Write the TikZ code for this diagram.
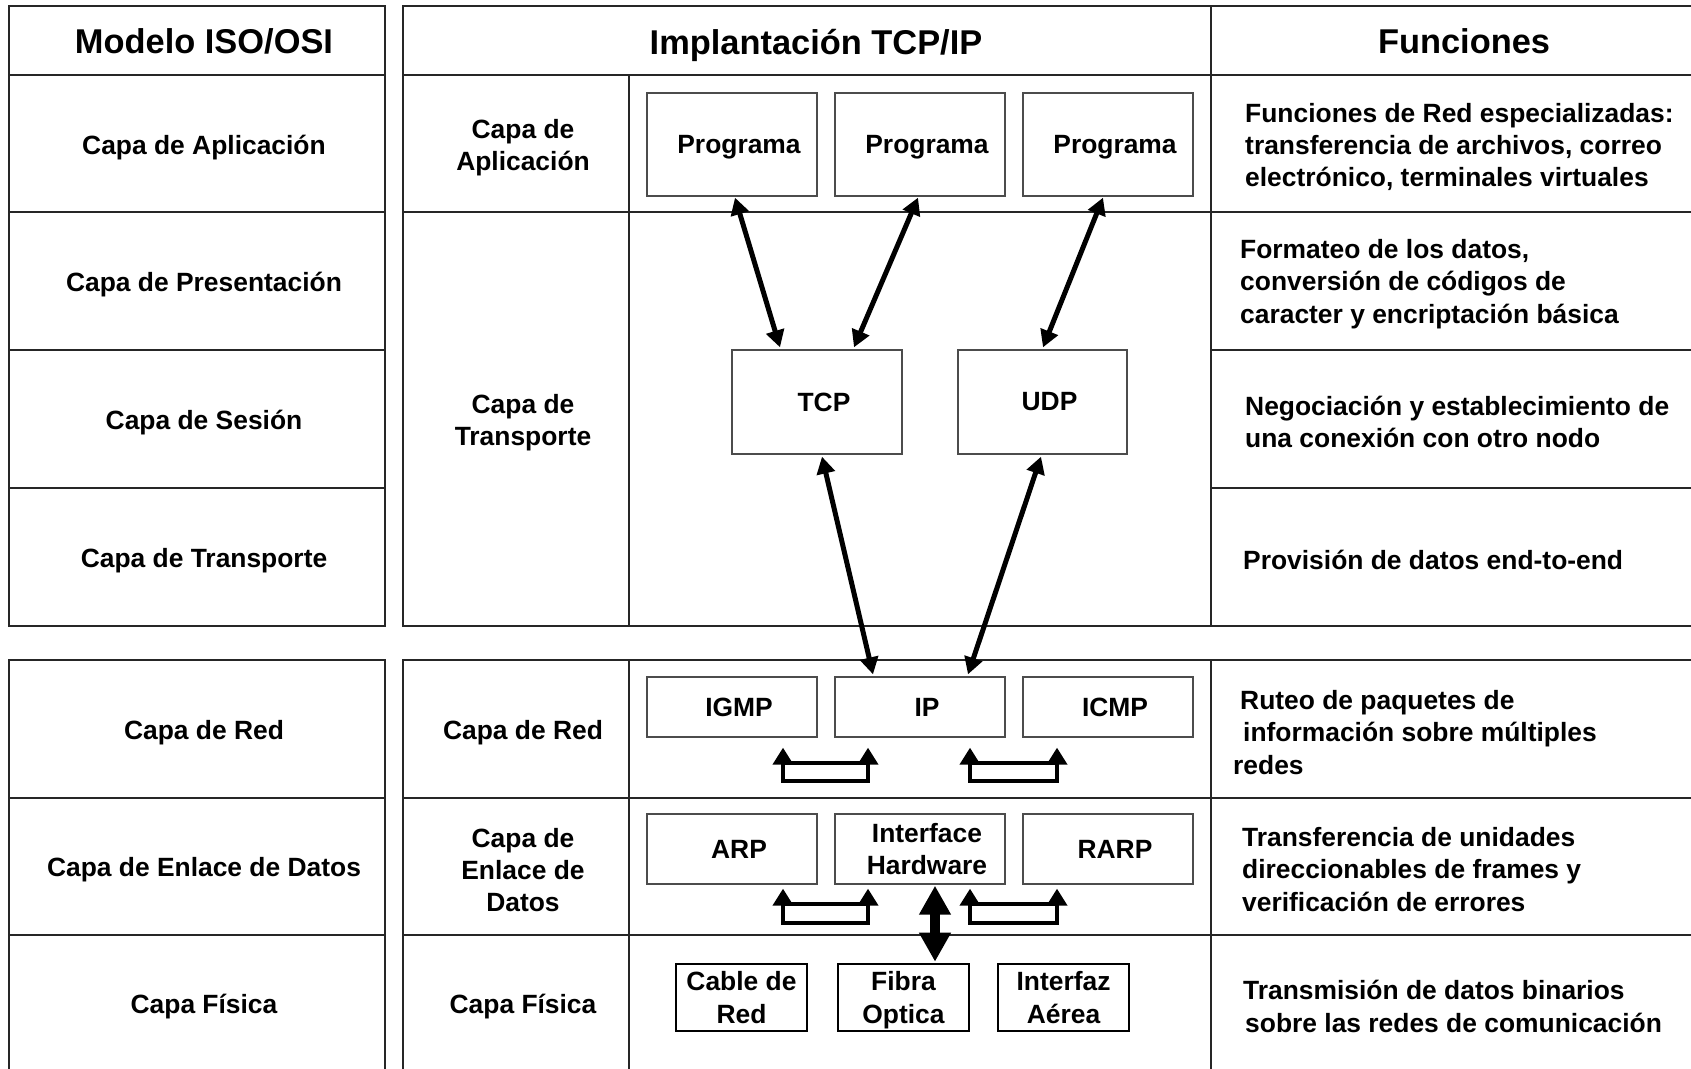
\documentclass[tikz,border=0pt]{standalone}
\usepackage{fontspec}
\setmainfont{Liberation Sans}
\usetikzlibrary{arrows.meta}
\newcommand\txtbody{\fontsize{26.4}{32.4}\selectfont\bfseries}
\newcommand\txthead{\fontsize{34.4}{40}\selectfont\bfseries}
\newcommand\padl{\hspace*{14pt}}
\begin{document}
\begin{tikzpicture}[x=1pt,y=-1pt,
  grid/.style={line width=1.5pt, draw=black!85},
  box/.style={draw=black!70, line width=1.3pt, inner sep=0pt, minimum width=170pt, align=center, font=\txtbody},
  medio/.style={draw=black, line width=2.6pt, inner sep=0pt, minimum width=131pt, minimum height=67pt, align=center, font=\txtbody, text depth=0pt},
  lbl/.style={inner sep=0pt, align=center, font=\txtbody, yshift=-3pt},
  fn/.style={inner sep=0pt, align=left, anchor=west, font=\txtbody, yshift=-2.5pt},
  hdr/.style={inner sep=0pt, font=\txthead},
  link/.style={line width=5pt, {Triangle[length=17pt,width=18pt]}-{Triangle[length=17pt,width=18pt]}},
  uarr/.style={line width=4pt, line join=miter, {Triangle[length=17pt,width=20pt]}-{Triangle[length=17pt,width=20pt]}},
  ubar/.style={line width=4pt},
  fat/.style={line width=10pt, {Triangle[length=29pt,width=30pt]}-{Triangle[length=29pt,width=30pt]}}
]
\useasboundingbox (0,0) rectangle (1691,1068);
\clip (0,0) rectangle (1691,1068);

% ---- ISO/OSI column ----
\draw[grid] (9,6) rectangle (385,626);
\foreach \yy in {75,212,350,488} \draw[grid] (9,\yy) -- (385,\yy);
\draw[grid] (9,1080) -- (9,660) -- (385,660) -- (385,1080);
\foreach \yy in {798,935} \draw[grid] (9,\yy) -- (385,\yy);

% ---- TCP/IP and functions columns ----
\draw[grid] (1700,6) -- (403,6) -- (403,626) -- (1700,626);
\draw[grid] (403,75) -- (1700,75);
\draw[grid] (403,212) -- (1700,212);
\draw[grid] (629,75) -- (629,626);
\draw[grid] (1211,6) -- (1211,626);
\draw[grid] (1211,350) -- (1700,350);
\draw[grid] (1211,488) -- (1700,488);
\draw[grid] (1700,660) -- (403,660) -- (403,1080);
\draw[grid] (629,660) -- (629,1080);
\draw[grid] (1211,660) -- (1211,1080);
\draw[grid] (403,798) -- (1700,798);
\draw[grid] (403,935) -- (1700,935);

% ---- headers ----
\node[hdr] (hiso) at (204,41) {Modelo ISO/OSI};
\node[hdr, yshift=-4pt] (htcp) at (816,41) {Implantación TCP/IP};
\node[hdr] (hfun) at (1464,41) {Funciones};

% ---- OSI layers ----
\node[lbl] (o1) at (204,144.5) {Capa de Aplicación};
\node[lbl] (o2) at (204,281.5) {Capa de Presentación};
\node[lbl] (o3) at (204,419.5) {Capa de Sesión};
\node[lbl] (o4) at (204,557.5) {Capa de Transporte};
\node[lbl] (o5) at (204,730) {Capa de Red};
\node[lbl] (o6) at (204,867) {Capa de Enlace de Datos};
\node[lbl] (o7) at (204,1004) {Capa Física};

% ---- TCP/IP layers ----
\node[lbl] (t1) at (523,144.5) {Capa de\\Aplicación};
\node[lbl] (t2) at (523,419.5) {Capa de\\Transporte};
\node[lbl] (t3) at (523,730) {Capa de Red};
\node[lbl] (t4) at (523,867) {Capa de\\Enlace de\\Datos};
\node[lbl] (t5) at (523,1004) {Capa Física};

% ---- functions ----
\node[fn] (f1) at (1245,144.5) {Funciones de Red especializadas:\\transferencia de archivos, correo\\electrónico, terminales virtuales};
\node[fn] (f2) at (1240,281.5) {Formateo de los datos,\\conversión de códigos de\\caracter y encriptación básica};
\node[fn] (f3) at (1245,419.5) {Negociación y establecimiento de\\una conexión con otro nodo};
\node[fn] (f4) at (1243,557.5) {Provisión de datos end-to-end};
\node[fn] (f5) at (1233,730) {\hspace*{7pt}Ruteo de paquetes de\\\hspace*{10pt}información sobre múltiples\\redes};
\node[fn] (f6) at (1242,867) {Transferencia de unidades\\direccionables de frames y\\verificación de errores};
\node[fn] (f7) at (1243,1004) {Transmisión de datos binarios\\\hspace*{2pt}sobre las redes de comunicación};

% ---- protocol boxes ----
\node[box, minimum height=103pt, text depth=0pt] (P1) at (732,144.5) {\padl Programa};
\node[box, minimum height=103pt, text depth=0pt] (P2) at (920,144.5) {\padl Programa};
\node[box, minimum height=103pt, text depth=0pt] (P3) at (1108,144.5) {\padl Programa};
\node[box, minimum height=104pt] (TCP) at (817,402) {\padl TCP};
\node[box, minimum height=104pt, minimum width=169pt] (UDP) at (1042.5,402) {\padl UDP};
\node[box, minimum height=60pt] (IGMP) at (732,707) {\padl IGMP};
\node[box, minimum height=60pt] (IP) at (920,707) {\padl IP};
\node[box, minimum height=60pt] (ICMP) at (1108,707) {\padl ICMP};
\node[box, minimum height=70pt] (ARP) at (732,849) {\padl ARP};
\node[box, minimum height=70pt] (IFH) at (920,849) {\padl Interface\\\padl Hardware};
\node[box, minimum height=70pt] (RARP) at (1108,849) {\padl RARP};
\node[medio] (CAB) at (741.5,997.5) {Cable de\\Red};
\node[medio] (FIB) at (903.5,997.5) {Fibra\\Optica};
\node[medio] (AER) at (1063.5,997.5) {Interfaz\\Aérea};

% ---- links between layers ----
\draw[link] ([xshift=3pt,yshift=-1pt]P1.south) -- ([xshift=-37pt,yshift=2pt]TCP.north);
\draw[link] ([xshift=-2pt,yshift=-1pt]P2.south) -- ([xshift=37pt,yshift=2pt]TCP.north);
\draw[link] ([xshift=-5pt,yshift=-1pt]P3.south) -- ([xshift=0.5pt,yshift=2pt]UDP.north);
\draw[link] ([xshift=5pt,yshift=-2pt]TCP.south) -- ([xshift=-47pt,yshift=2pt]IP.north);
\draw[link] ([xshift=-1.5pt,yshift=-2pt]UDP.south) -- ([xshift=48pt,yshift=2pt]IP.north);

% ---- exchanges inside the network and data link layers ----
\draw[uarr] ([xshift=51pt,yshift=-10pt]IGMP.south) -- ++(0pt,-33pt) -| ([xshift=-52pt,yshift=-10pt]IP.south);
\draw[ubar] ([xshift=51pt,yshift=-25pt]IGMP.south) -- ([xshift=-52pt,yshift=-25pt]IP.south);
\draw[uarr] ([xshift=50pt,yshift=-10pt]IP.south) -- ++(0pt,-33pt) -| ([xshift=-51pt,yshift=-10pt]ICMP.south);
\draw[ubar] ([xshift=50pt,yshift=-25pt]IP.south) -- ([xshift=-51pt,yshift=-25pt]ICMP.south);
\draw[uarr] ([xshift=51pt,yshift=-4pt]ARP.south) -- ++(0pt,-34pt) -| ([xshift=-52pt,yshift=-4pt]IFH.south);
\draw[ubar] ([xshift=51pt,yshift=-19pt]ARP.south) -- ([xshift=-52pt,yshift=-19pt]IFH.south);
\draw[uarr] ([xshift=50pt,yshift=-4pt]IFH.south) -- ++(0pt,-34pt) -| ([xshift=-51pt,yshift=-4pt]RARP.south);
\draw[ubar] ([xshift=50pt,yshift=-19pt]IFH.south) -- ([xshift=-51pt,yshift=-19pt]RARP.south);

% ---- hardware interface to physical medium ----
\draw[fat] ([xshift=15pt,yshift=-1pt]IFH.south) -- ([xshift=31.5pt,yshift=1pt]FIB.north);
\end{tikzpicture}
\end{document}
